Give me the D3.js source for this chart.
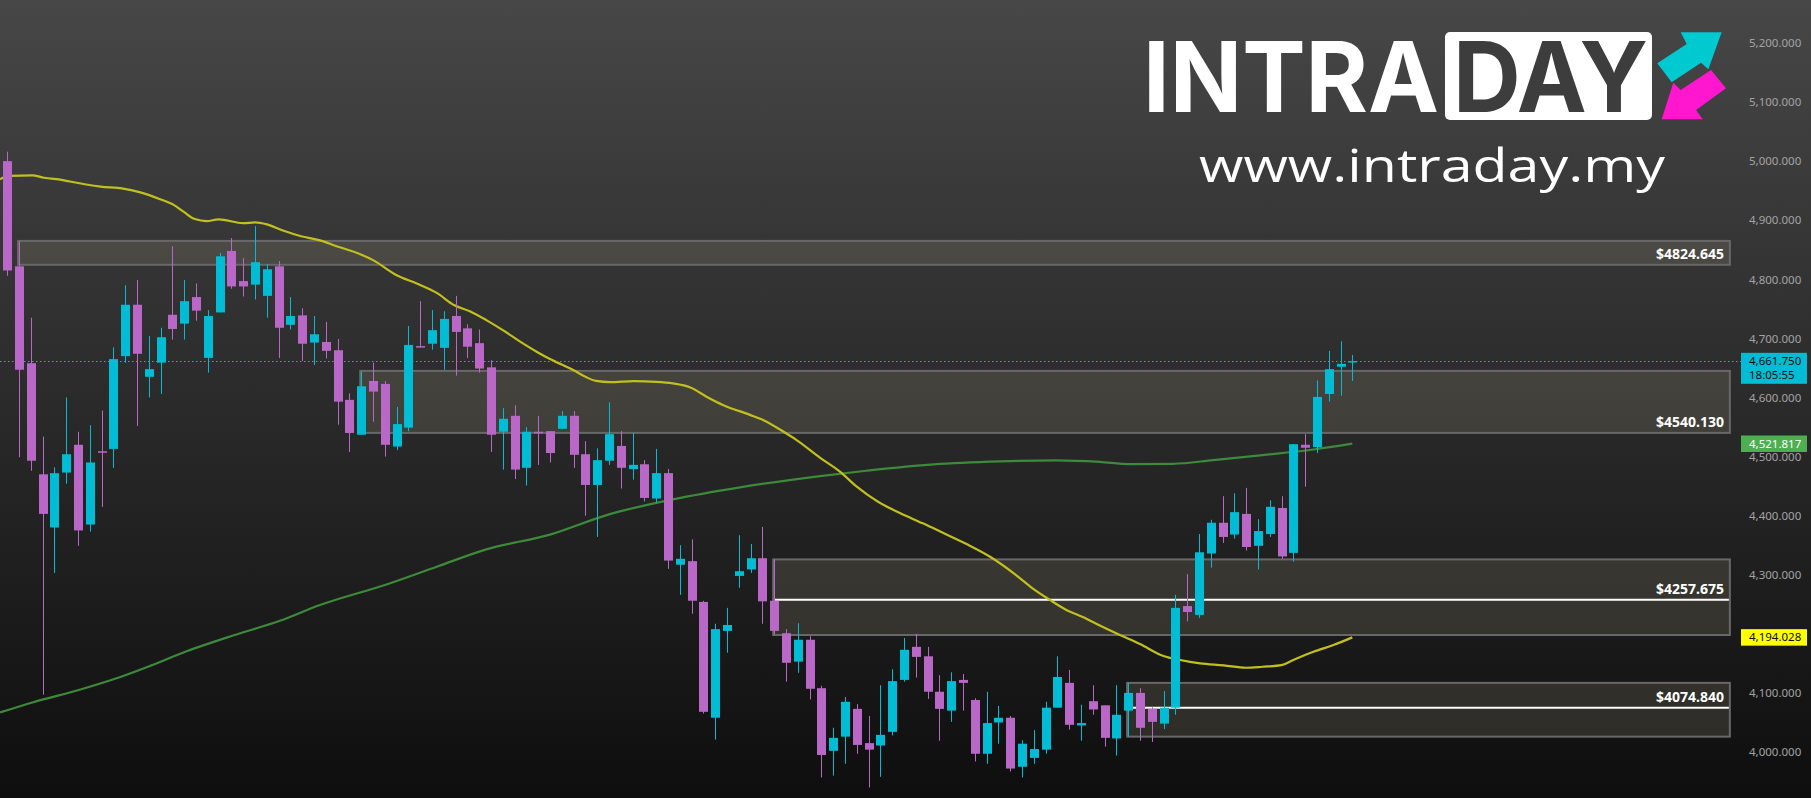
<!DOCTYPE html>
<html><head><meta charset="utf-8">
<script src="https://cdn.jsdelivr.net/npm/d3@7"></script>
<style>html,body{margin:0;padding:0;background:#111;overflow:hidden}</style>
</head><body><svg id="c" width="1811" height="798"></svg>
<script>
// ---- DATA ----
const opens  = [5000,4822,4658,4470,4380,4473,4520,4385,4509,4513,4670,4757,4635,4659,4740,4725,4770,4667,4744,4848,4797,4791,4772,4822,4723,4739,4693,4694,4680,4596,4537,4628,4623,4517,4549,4687,4691,4684,4738,4717,4692,4651,4542,4569,4481,4542,4543,4547,4569,4504,4452,4493,4518,4479,4487,4429,4472,4317,4323,4254,4058,4205,4298,4309,4328,4256,4201,4153,4190,4108,4002,4026,4073,4015,4011,4034,4122,4178,4162,4102,4070,4122,4088,3997,4050,4058,3975,3990,4004,4075,4117,4045,4086,4079,4023,4070,4100,4073,4048,4075,4247,4232,4336,4388,4368,4403,4349,4369,4413,4337,4520,4516,4606,4652,4660];
const highs  = [5016,4865,4735,4534,4482,4600,4542,4553,4578,4685,4790,4799,4704,4718,4856,4799,4793,4748,4845,4870,4836,4890,4826,4831,4770,4751,4738,4728,4699,4607,4644,4659,4628,4584,4721,4763,4748,4746,4772,4724,4715,4663,4582,4587,4550,4569,4543,4577,4577,4526,4514,4592,4543,4540,4494,4513,4479,4350,4360,4256,4217,4244,4367,4352,4381,4326,4208,4218,4196,4112,4041,4093,4081,4061,4113,4140,4193,4200,4178,4130,4135,4132,4091,4102,4078,4061,4020,4037,4085,4162,4139,4080,4113,4079,4113,4117,4108,4076,4103,4266,4301,4369,4393,4433,4438,4447,4394,4426,4433,4521,4538,4629,4679,4695,4672];
const lows   = [4806,4499,4476,4097,4303,4454,4349,4373,4415,4481,4659,4552,4600,4606,4698,4698,4730,4642,4744,4784,4771,4766,4735,4667,4715,4662,4655,4666,4554,4508,4537,4559,4500,4511,4543,4685,4681,4647,4637,4667,4642,4508,4478,4462,4451,4486,4490,4547,4481,4400,4364,4486,4446,4461,4424,4422,4310,4266,4234,4065,4021,4168,4278,4303,4217,4199,4119,4134,4089,3957,3960,3980,3997,3940,3958,4028,4119,4126,4090,4019,4051,4070,3984,3980,4014,3967,3957,3980,3997,4075,4038,4019,4063,4009,3994,4026,4019,4017,4039,4063,4221,4227,4312,4354,4361,4341,4309,4364,4327,4322,4449,4506,4593,4603,4628];
const closes = [4815,4647,4493,4403,4472,4504,4375,4490,4507,4665,4757,4674,4648,4702,4716,4763,4747,4738,4839,4788,4788,4829,4817,4718,4738,4691,4707,4679,4593,4540,4619,4610,4520,4555,4689,4685,4714,4733,4711,4686,4649,4537,4564,4478,4542,4540,4506,4569,4503,4452,4494,4538,4481,4486,4430,4472,4324,4327,4256,4068,4208,4215,4306,4328,4255,4205,4151,4190,4107,3995,4024,4085,4012,4004,4029,4120,4173,4161,4102,4073,4120,4117,3997,4049,4058,3972,4014,4005,4075,4127,4046,4049,4072,4024,4063,4100,4041,4051,4075,4244,4237,4338,4388,4364,4406,4347,4374,4415,4331,4521,4515,4601,4648,4657,4661.75];

// moving averages: [bar index, value]
const maFastIdx = [-0.62,0.2,2.1,3.1,4.7,6,7.9,9.8,11.2,12.9,14.1,14.9,15.9,16.9,17.9,20,21,22,23.3,24.9,26.5,27.9,29.6,31,33,34.7,36.4,37.9,39.2,40.6,42,43.7,44.9,46,48,49,49.9,51.1,53.1,55,56.4,57.9,59.3,60.7,62.9,64.1,65.8,66.9,68.9,70.6,72,73.8,75.7,77.6,79.3,81.3,83.3,85.5,86.9,88.4,89.8,91.2,92.6,94.3,96,98,99.4,101.1,103.1,105,106.4,108,109,110.7,112.4,114];
const maFastVal = [4969.5,4975,4976,4972,4968,4963,4957,4953.6,4947.5,4936,4926,4915,4902,4898.5,4901.5,4895,4896.4,4893,4883,4873,4866,4856,4845,4832.5,4807,4793,4777,4756,4746,4731,4714,4691.5,4677,4665,4646,4635,4628,4626,4627.7,4626.6,4624,4617,4601,4587,4571,4561.7,4542,4528,4498,4474,4449,4423.5,4404,4387,4371,4352,4330.5,4299.5,4277,4257,4240,4228,4214,4198,4182.7,4162.4,4155.7,4150,4146.7,4142.6,4144.3,4147,4155.7,4169.7,4181,4194];
const maSlowIdx = [-0.62,2.2,6.2,9,12.1,15.2,19.2,23.1,26.5,32.2,36.4,40.6,46,50.8,56.4,62.1,68.9,72.8,78.5,84.1,88.9,92.6,95.1,98.8,102.2,106.4,110.7,114];
const maSlowVal = [4066.8,4084.3,4105.7,4123,4145.8,4170.5,4197.6,4222,4248.7,4284,4313.6,4343,4368,4401,4427.6,4448,4467,4476,4486.8,4491.8,4493.6,4491,4487.3,4487.8,4494,4502.5,4512,4521.8];

// support / resistance zones
const zoneLabels  = [4824.645, 4540.130, 4257.675, 4074.840];
const zoneTops    = [4865, 4645, 4326, 4117];
const zoneBottoms = [4824.645, 4540.130, 4198, 4026];
const zoneStart   = [1, 30, 65, 95];
const zoneEnd     = 146;
const zoneHasMid  = [false, false, true, true];

const tickValues = [4000,4100,4200,4300,4400,4500,4600,4700,4800,4900,5000,5100,5200];
const lastPrice = 4661.750, lastTime = "18:05:55";
const maSlowLast = 4521.817, maFastLast = 4194.028;

// ---- DRAW ----
const W = 1811, H = 798;
const svg = d3.select("#c");
const defs = svg.append("defs");
const g0 = defs.append("linearGradient").attr("id","bg").attr("x1",0).attr("y1",0).attr("x2",0).attr("y2",1);
g0.append("stop").attr("offset","0%").attr("stop-color","#474747");
g0.append("stop").attr("offset","100%").attr("stop-color","#0e0e0e");
svg.append("rect").attr("width",W).attr("height",H).attr("fill","url(#bg)");

const x = d3.scaleLinear().domain([0, 114]).range([7.3, 1352.3]);
const y = d3.scaleLinear().domain([4000, 5200]).range([752, 43]);

// logo
const logo = svg.append("g");
logo.append("text").attr("x",1143).attr("y",111.7)
  .attr("font-family","Inter, 'Noto Sans', sans-serif").attr("font-weight",700)
  .attr("font-size",98).attr("fill","#ffffff")
  .attr("textLength",296).attr("lengthAdjust","spacingAndGlyphs").text("INTRA");
logo.append("rect").attr("x",1445).attr("y",32).attr("width",207).attr("height",88).attr("rx",5).attr("fill","#ffffff");
logo.append("text").attr("x",1453).attr("y",111.7)
  .attr("font-family","Inter, 'Noto Sans', sans-serif").attr("font-weight",700)
  .attr("font-size",98).attr("fill","#3d3d3d")
  .attr("textLength",195).attr("lengthAdjust","spacingAndGlyphs").text("DAY");
const cyanArrow = [[1680.7,32.3],[1721.7,32.3],[1708.3,69.3],[1701,62.7],[1671.7,82.3],[1657.3,63.3],[1686.7,44]];
const pinkArrow = [[1661.7,119.3],[1673.3,82.7],[1680.7,90],[1711,70],[1726,88.3],[1696,110],[1702.7,119.3]];
logo.append("polygon").attr("points",cyanArrow.map(p=>p.join(",")).join(" ")).attr("fill","#00c9d0");
logo.append("polygon").attr("points",pinkArrow.map(p=>p.join(",")).join(" ")).attr("fill","#ff17d0");
logo.append("text").attr("x",1199).attr("y",181.7)
  .attr("font-family","'Open Sans', Lato, sans-serif").attr("font-weight",400)
  .attr("font-size",46).attr("fill","#ffffff")
  .attr("textLength",466).attr("lengthAdjust","spacingAndGlyphs").text("www.intraday.my");

// zones
const zones = svg.append("g");
zoneLabels.forEach((lab,i)=>{
  const x0 = x(zoneStart[i]) - 1, x1 = x(zoneEnd);
  const yt = y(zoneTops[i]), yb = y(zoneBottoms[i]);
  zones.append("rect").attr("x",x0).attr("y",yt).attr("width",x1-x0).attr("height",yb-yt)
    .attr("fill","rgba(176,166,132,0.18)").attr("stroke","#686868").attr("stroke-width",2);
  if (zoneHasMid[i]) {
    zones.append("line").attr("x1",x0+1).attr("x2",x1-1).attr("y1",y(lab)).attr("y2",y(lab))
      .attr("stroke","#ffffff").attr("stroke-width",2);
  }
  zones.append("text").attr("x",1724).attr("y",y(lab)-6).attr("text-anchor","end")
    .attr("font-family","'Noto Sans', sans-serif").attr("font-weight",700).attr("font-size",14)
    .attr("fill","#ffffff").text("$" + lab.toFixed(3));
});

// moving averages
const line = d3.line().x(d=>x(d[0])).y(d=>y(d[1])).curve(d3.curveMonotoneX);
svg.append("path").datum(maSlowIdx.map((v,i)=>[v,maSlowVal[i]]))
  .attr("d",line).attr("fill","none").attr("stroke","#3c8a3a").attr("stroke-width",2.2);
svg.append("path").datum(maFastIdx.map((v,i)=>[v,maFastVal[i]]))
  .attr("d",line).attr("fill","none").attr("stroke","#c2c01c").attr("stroke-width",2.2);

// current price dotted line
svg.append("line").attr("x1",0).attr("x2",1741).attr("y1",Math.round(y(lastPrice))+0.5).attr("y2",Math.round(y(lastPrice))+0.5)
  .attr("stroke","#00bcd4").attr("stroke-width",1).attr("stroke-dasharray","1.5 2.5");

// candles
const up = "#00bcd4", down = "#ba68c8";
const candles = svg.append("g");
opens.forEach((o,i)=>{
  const c = closes[i], col = c >= o ? up : down;
  const cx = Math.round(x(i));
  candles.append("rect").attr("x",cx).attr("width",1)
    .attr("y",y(highs[i])).attr("height",Math.max(1,y(lows[i])-y(highs[i]))).attr("fill",col);
  const yt = y(Math.max(o,c)), yb = y(Math.min(o,c));
  candles.append("rect").attr("x",cx-4).attr("width",9)
    .attr("y",yt).attr("height",Math.max(1.5,yb-yt)).attr("fill",col);
});

// right axis
const axis = d3.axisRight(y).tickValues(tickValues).tickFormat(d3.format(",.3f")).tickSize(0).tickPadding(0);
const ag = svg.append("g").attr("transform","translate(1749,0)").call(axis);
ag.select(".domain").remove();
ag.selectAll("text").attr("fill","#a3a3a3").attr("font-family","'Noto Sans', sans-serif").attr("font-size",11.5);

// price tags
function tag(val, lines, bg, fg){
  const yc = y(val);
  const h = lines.length === 2 ? 31 : 16.5;
  const top = yc - 8.2;
  svg.append("rect").attr("x",1741).attr("y",top).attr("width",66).attr("height",h).attr("fill",bg);
  lines.forEach((t,k)=>{
    svg.append("text").attr("x",1749).attr("y",top + 8.2 + k*13.7).attr("dy","0.35em")
      .attr("font-family","'Noto Sans', sans-serif").attr("font-size",11.5).attr("fill",fg).text(t);
  });
}
const fmt = d3.format(",.3f");
tag(lastPrice, [fmt(lastPrice), lastTime], "#00bcd4", "#0b0b0b");
tag(maSlowLast, [fmt(maSlowLast)], "#4caf50", "#ffffff");
tag(maFastLast, [fmt(maFastLast)], "#ffff00", "#0b0b0b");
</script></body></html>
